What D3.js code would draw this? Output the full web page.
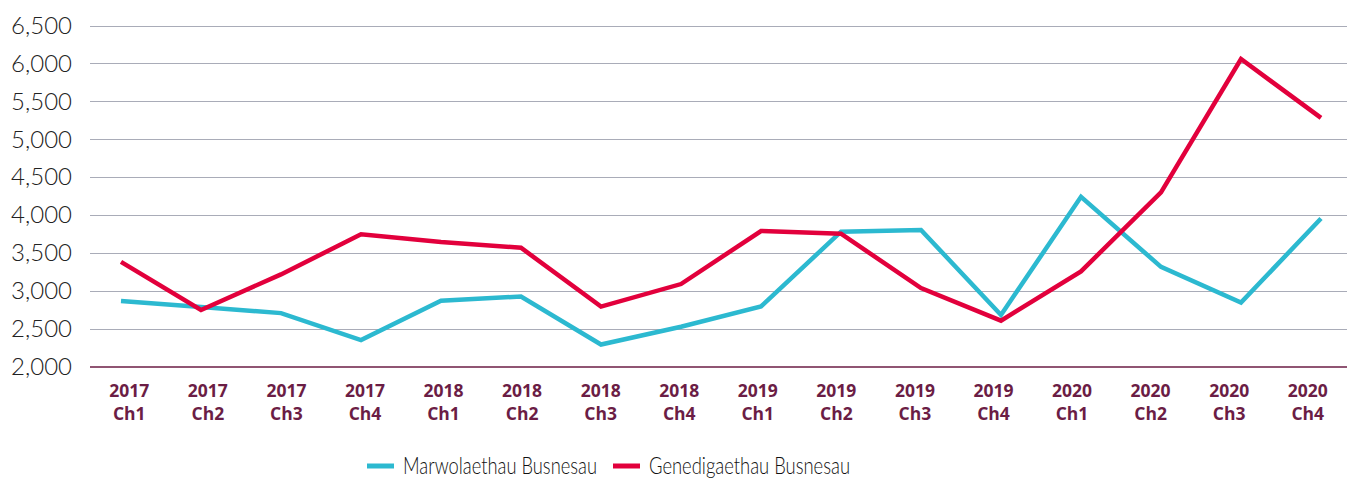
<!DOCTYPE html>
<html>
<head>
<meta charset="utf-8">
<script src="https://cdn.jsdelivr.net/npm/d3@7"></script>
<style>
    body { margin: 0; background: #fff; }
    .tick-y text { font-family: Lato, sans-serif; font-size: 24px; font-weight: 300; fill: #222; }
    .tick-x { font-family: "Open Sans", sans-serif; font-size: 17.5px; font-weight: bold; fill: #6b1d45; }
    .legend text { font-family: Lato, sans-serif; font-size: 24px; font-weight: 300; fill: #111; }
</style>
</head>
<body>
<svg id="chart" width="1349" height="480"></svg>
<script>
// quarters (year + "Ch" = chwarter)
const years = ["2017", "2017", "2017", "2017", "2018", "2018", "2018", "2018",
               "2019", "2019", "2019", "2019", "2020", "2020", "2020", "2020"];
const quarters = ["Ch1", "Ch2", "Ch3", "Ch4", "Ch1", "Ch2", "Ch3", "Ch4",
                  "Ch1", "Ch2", "Ch3", "Ch4", "Ch1", "Ch2", "Ch3", "Ch4"];
const categories = years.map((y, i) => `${y} ${quarters[i]}`);

const deaths = [2870, 2790, 2710, 2355, 2872, 2929, 2296, 2530,
                2797, 3783, 3805, 2686, 4243, 3319, 2849, 3956];
const births = [3385, 2752, 3220, 3748, 3646, 3571, 2796, 3093,
                3792, 3757, 3040, 2611, 3260, 4300, 6058, 5283];

const yTicks = [2000, 2500, 3000, 3500, 4000, 4500, 5000, 5500, 6000, 6500];

const seriesNames = ["Marwolaethau Busnesau", "Genedigaethau Busnesau"];
const seriesColors = ["#2cb9d0", "#e2003c"];

const svg = d3.select("#chart");
const plotLeft = 90, plotRight = 1347, plotTop = 25.5, plotBottom = 367;

const x = d3.scaleBand().domain(categories).range([plotLeft, plotRight]);
const xPts = d3.scalePoint().domain(categories).range([121, 1321]);
const y = d3.scaleLinear().domain([2000, 6500]).range([plotBottom, plotTop]);

// gridlines
svg.append("g")
    .selectAll("line")
    .data(yTicks.slice(1))
    .enter()
    .append("line")
    .attr("x1", plotLeft)
    .attr("x2", plotRight)
    .attr("y1", d => Math.round(y(d)) + 0.5)
    .attr("y2", d => Math.round(y(d)) + 0.5)
    .attr("stroke", "#a9acb8")
    .attr("stroke-width", 1);

// y labels
const yAxis = svg.append("g")
    .attr("class", "tick-y")
    .attr("transform", `translate(${plotLeft},0)`)
    .call(d3.axisLeft(y).tickValues(yTicks).tickFormat(d3.format(",")).tickSize(0).tickPadding(18));
yAxis.select(".domain").remove();

// base axis
svg.append("line")
    .attr("x1", plotLeft)
    .attr("x2", plotRight)
    .attr("y1", y(2000))
    .attr("y2", y(2000))
    .attr("stroke", "#6b1d45")
    .attr("stroke-width", 1.5);

// x labels, two lines each
const xLabels = svg.append("g").attr("class", "tick-x")
    .selectAll("text")
    .data(categories)
    .enter()
    .append("text")
    .attr("text-anchor", "middle")
    .attr("transform", d => `translate(${x(d) + x.bandwidth() / 2},0)`);
xLabels.append("tspan").attr("x", 0).attr("y", 397).text((d, i) => years[i]);
xLabels.append("tspan").attr("x", 0).attr("y", 420).text((d, i) => quarters[i]);

// lines
const line = d3.line()
    .x((d, i) => xPts(categories[i]))
    .y(d => y(d));

[deaths, births].forEach(function(values, i) {
    svg.append("path")
        .datum(values)
        .attr("fill", "none")
        .attr("stroke", seriesColors[i])
        .attr("stroke-width", 4.5)
        .attr("stroke-linejoin", "miter")
        .attr("d", line);
});

// legend
const legend = svg.append("g").attr("class", "legend");
const legendX = [367, 613];
const legendTextWidth = [194, 201];
seriesNames.forEach(function(name, i) {
    legend.append("line")
        .attr("x1", legendX[i])
        .attr("x2", legendX[i] + 27)
        .attr("y1", 466)
        .attr("y2", 466)
        .attr("stroke", seriesColors[i])
        .attr("stroke-width", 5);
    legend.append("text")
        .attr("x", legendX[i] + 36)
        .attr("y", 474)
        .attr("textLength", legendTextWidth[i])
        .attr("lengthAdjust", "spacingAndGlyphs")
        .text(name);
});
</script>
</body>
</html>
